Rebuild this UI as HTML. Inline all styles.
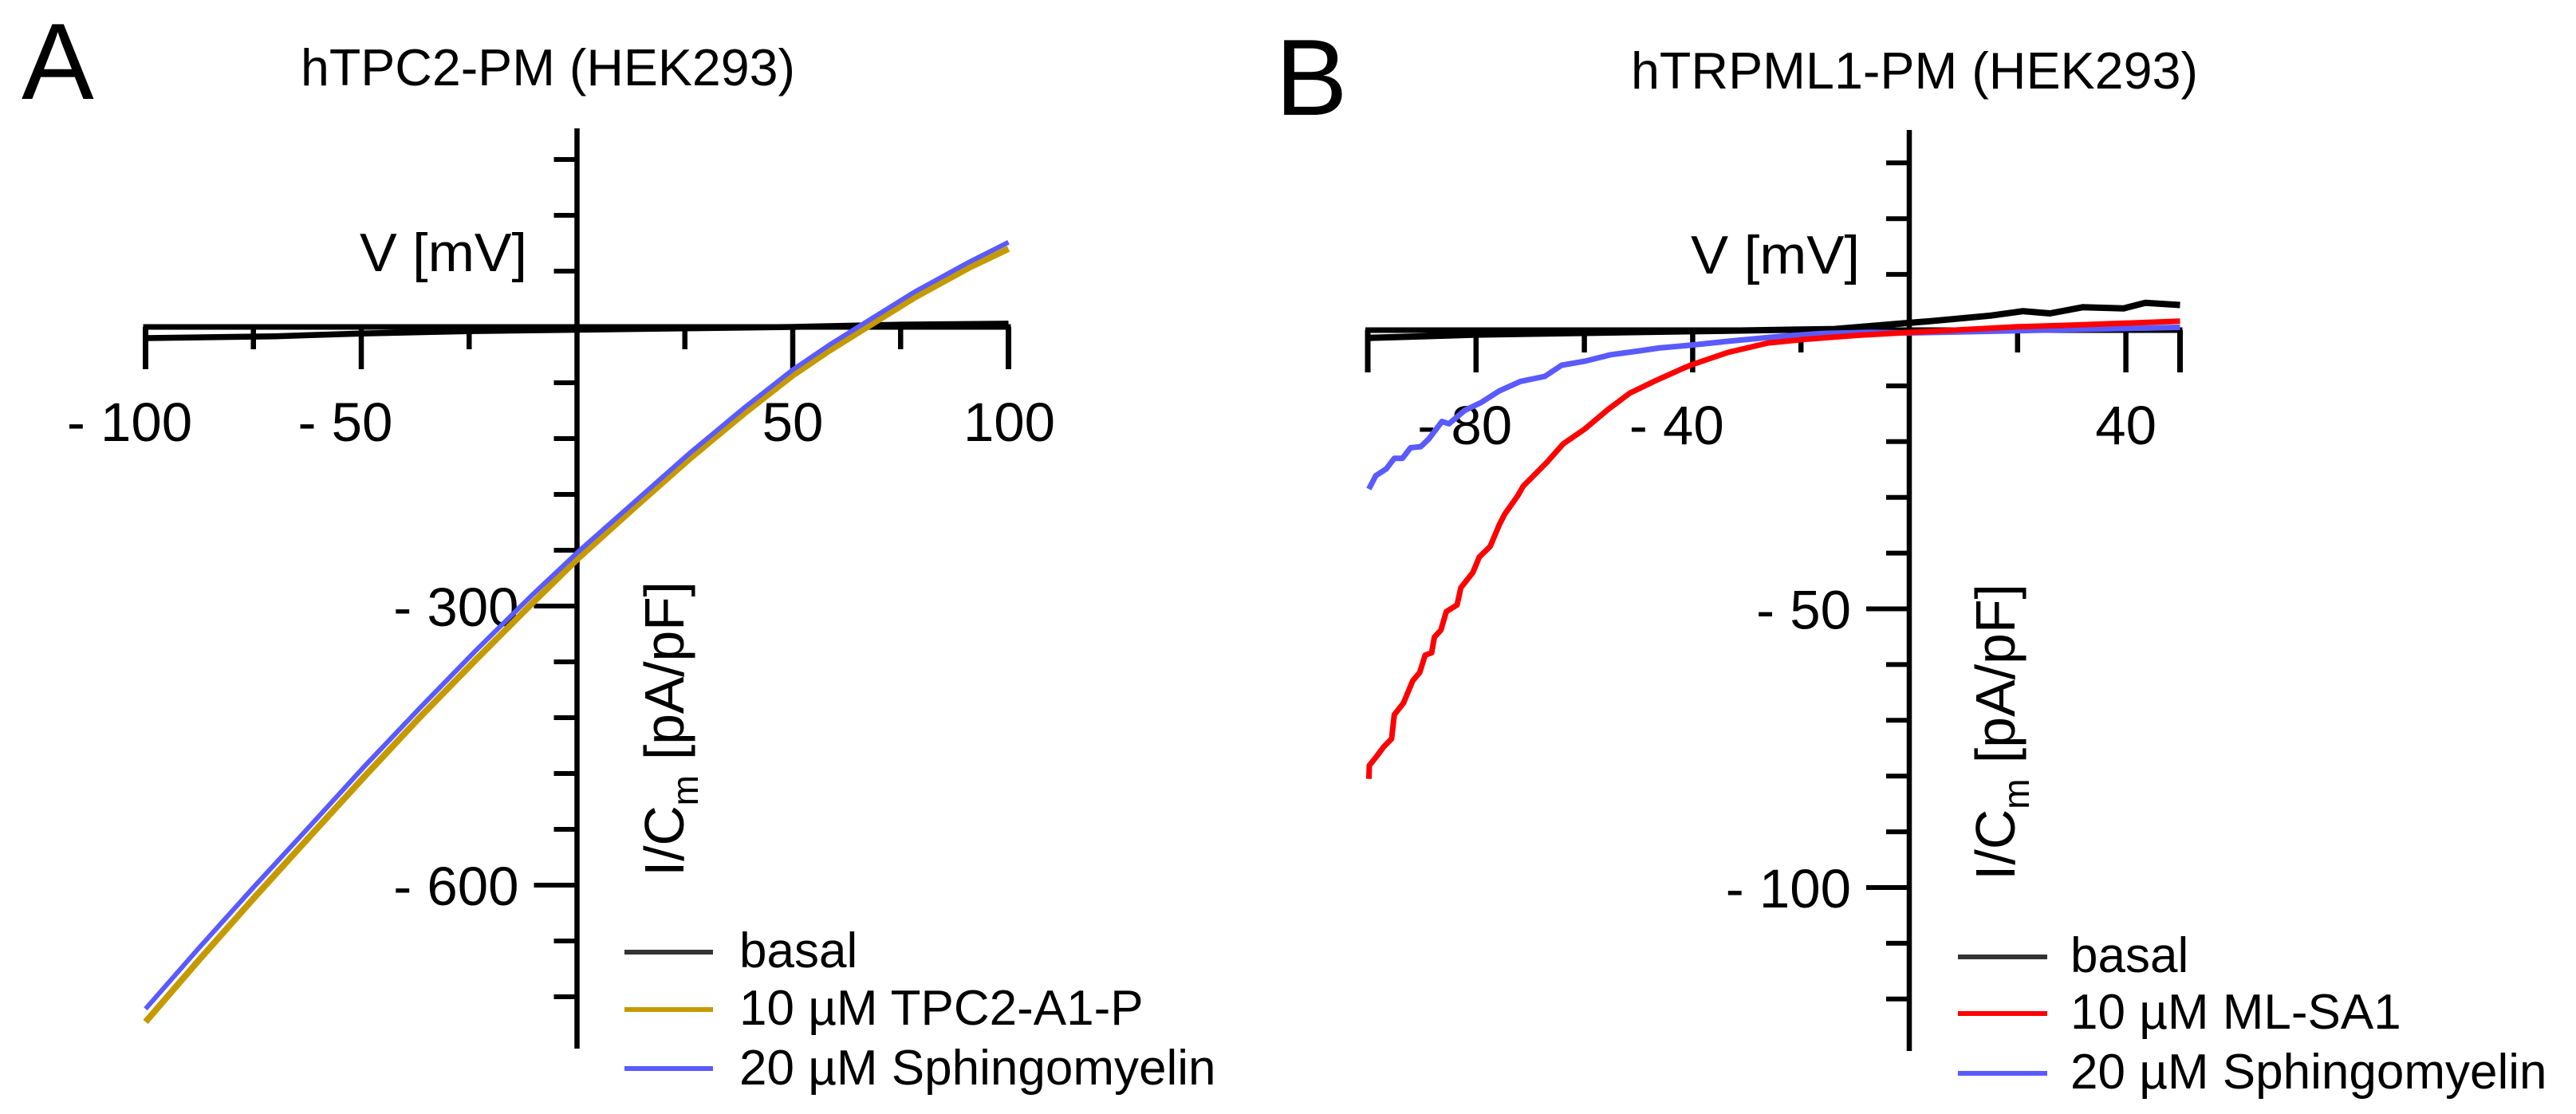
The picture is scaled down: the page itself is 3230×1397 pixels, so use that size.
<!DOCTYPE html>
<html lang="en">
<head>
<meta charset="utf-8">
<title>hTPC2-PM and hTRPML1-PM current-voltage curves</title>
<style>
html,body{margin:0;padding:0;background:#fff;}
svg{display:block;}
text{font-family:"Liberation Sans",Arial,sans-serif;fill:#000;}
</style>
</head>
<body>
<svg id="figure" xmlns="http://www.w3.org/2000/svg" width="3230" height="1397" viewBox="0 0 3230 1397"></svg>
<script>
// Panel A data
const aMajorXTicks = [-100, -50, 50, 100];
const aMinorXTicks = [-75, -25, 25, 75];
const aXTickLabels = ['- 100', '- 50', '50', '100'];
const aYTicks = [180, 120, 60, -60, -120, -180, -240, -360, -420, -480, -540, -660, -720];
const aMajorYTicks = [-300, -600];
const aYTickLabels = ['- 300', '- 600'];
const aVoltage = [-100, -87.7, -74.9, -62, -49.2, -36.3, -23.5, -10.6, 0.2, 13.1, 26, 39, 50, 58.6, 66.9, 78, 91, 100];
const aTpcCurrent = [-747, -681, -614, -548, -483, -419, -358, -298, -249, -195, -142, -92, -52, -25, -1, 31, 64, 84];
const aSphingoVoltage = [-100, -87.7, -74.9, -62, -49.2, -36.3, -23.5, -10.6, 0.2, 13.1, 26, 39, 50, 58.6, 66.9, 78, 91, 100];
const aSphingoCurrent = [-733, -668, -602, -537, -472, -409, -348, -289, -242, -189, -136, -86, -46, -19, 5, 37, 70, 91];
const aBasalVoltage = [-100, -70, -50, -25, 0, 25, 50, 75, 100];
const aBasalCurrent = [-12, -10, -7, -4.5, -3, -1.5, 0, 2.5, 3.5];

// Panel B data
const bMajorXTicks = [-80, -40, 40];
const bMinorXTicks = [-60, -20, 20];
const bXTickLabels = ['- 80', '- 40', '40'];
const bYTicks = [30, 20, 10, -10, -20, -30, -40, -60, -70, -80, -90, -110, -120];
const bMajorYTicks = [-50, -100];
const bYTickLabels = ['- 50', '- 100'];
const bBasalVoltage = [-100, -90, -80, -60, -40, -20, -13.8, 0, 3.8, 7.2, 15, 21, 26, 32, 39.6, 43.6, 50];
const bBasalCurrent = [-1.4, -1.1, -0.8, -0.5, -0.2, 0.1, 0.2, 1.3, 1.6, 1.9, 2.6, 3.4, 3.0, 4.1, 3.9, 4.9, 4.5];
const bMlVoltage = [-99.8, -99.7, -98.3, -97.1, -95.6, -95.1, -93.4, -91.7, -90.4, -89.4, -88.2, -87.7, -86.5, -85.5, -83.5, -82.8, -80.6, -79.4, -77.4, -75.7, -74.7, -72.3, -71.3, -66.9, -63.9, -60, -55.6, -51.6, -46.7, -42.1, -40.4, -33.5, -26.1, -18.7, -9, 0.4, 20, 30, 50];
const bMlCurrent = [-80.5, -78.1, -76.4, -74.8, -73.3, -69, -66.9, -62.9, -61.4, -58.3, -57.9, -55.1, -53.8, -50.5, -49.3, -46.2, -43.5, -40.7, -38.8, -34.9, -33, -29.7, -28, -23.7, -20.4, -17.8, -14.2, -11.3, -9, -7, -6.3, -4, -2.3, -1.6, -0.9, -0.4, 0.6, 0.9, 1.6];
const bSphingoVoltage = [-99.8, -98.5, -96.6, -95.1, -93.6, -92.1, -90.2, -88.7, -86.3, -85, -82.1, -79.1, -75.7, -71.8, -67.3, -64.2, -60, -55.1, -49.7, -46.2, -40.4, -33.5, -23.7, -16.3, -7, 0, 20, 50];
const bSphingoCurrent = [-28.5, -26.1, -24.9, -23, -23, -21.1, -20.9, -19.5, -16.4, -16.8, -14.4, -13, -10.9, -9.2, -8.3, -6.3, -5.6, -4.4, -3.7, -3.2, -2.7, -2, -1.1, -0.6, -0.4, -0.5, -0.1, 0.5];

const NS = 'http://www.w3.org/2000/svg';
const fig = document.getElementById('figure');

function mk(tag, attrs, parent, txt) {
  const el = document.createElementNS(NS, tag);
  for (const k in attrs) el.setAttribute(k, attrs[k]);
  if (txt !== undefined) el.textContent = txt;
  (parent || fig).appendChild(el);
  return el;
}

function scaleX(p) { return v => p.x0 + v * p.kx; }
function scaleY(p) { return v => p.y0 - v * p.ky; }

function drawAxes(p, g) {
  const xs = scaleX(p), ys = scaleY(p);
  const xAxis = mk('line', {x1: xs(p.xMin) - 3, x2: xs(p.xMax) + 3, y1: p.y0, y2: p.y0, stroke: '#000', 'stroke-width': 7}, g);
  
  
  const yAxis = mk('line', {x1: p.x0, x2: p.x0, y1: p.yTop, y2: p.yBottom, stroke: '#000', 'stroke-width': 6.5}, g);
  
  
  [xs(p.xMin), xs(p.xMax)].forEach(x => {
    const end = mk('line', {x1: x, x2: x, y1: p.y0, y2: p.y0 + 53, stroke: '#000', 'stroke-width': 7}, g);
    
    
  });
  p.majorX.forEach((v, i) => {
    const x = xs(v);
    const t = mk('line', {x1: x, x2: x, y1: p.y0, y2: p.y0 + 53, stroke: '#000', 'stroke-width': 6.5}, g);
    
    
    const lab = p.xLabels[i];
    const neg = v < 0;
    const digits = lab.replace(/[^0-9]/g, '').length;
    const lx = (neg ? x + digits * 19.2 + 1 : x) + (p.xLabelNudge[i] || 0);
    const label = mk('text', {x: lx, y: p.y0 + 143, 'font-size': 69, 'text-anchor': neg ? 'end' : 'middle', 'xml:space': 'preserve'}, g, lab);
    
    
  });
  p.minorX.forEach(v => {
    const x = xs(v);
    const t = mk('line', {x1: x, x2: x, y1: p.y0, y2: p.y0 + 28, stroke: '#000', 'stroke-width': 6.5}, g);
    
    
  });
  p.yMinor.forEach(v => {
    const y = ys(v);
    const t = mk('line', {x1: p.x0 - 29, x2: p.x0, y1: y, y2: y, stroke: '#000', 'stroke-width': 6}, g);
    
    
  });
  p.yMajor.forEach((v, i) => {
    const y = ys(v);
    const t = mk('line', {x1: p.x0 - 54, x2: p.x0, y1: y, y2: y, stroke: '#000', 'stroke-width': 6}, g);
    
    
    const label = mk('text', {x: p.x0 - 73, y: y + 25, 'font-size': 69, 'text-anchor': 'end'}, g, p.yLabels[i]);
    
    
  });
}

function drawSeries(p, g, vs, is, color, width, name) {
  const xs = scaleX(p), ys = scaleY(p);
  const pts = vs.map((v, i) => xs(v).toFixed(1) + ',' + ys(is[i]).toFixed(1)).join(' ');
  const line = mk('polyline', {points: pts, fill: 'none', stroke: color, 'stroke-width': width, 'stroke-linejoin': 'round'}, g);
  
  
}

function drawLegend(g, lx1, lx2, tx, items) {
  items.forEach(it => {
    const sw = mk('line', {x1: lx1, x2: lx2, y1: it.ly, y2: it.ly, stroke: it.color, 'stroke-width': 6}, g);
    
    
    const t = mk('text', {x: tx, y: it.ty, 'font-size': 62}, g, it.label);
    
    
  });
}

function drawYTitle(g, x, yStart, len) {
  const t = mk('text', {transform: 'translate(' + x + ',' + yStart + ') rotate(-90)', 'font-size': 70, textLength: len, lengthAdjust: 'spacing'}, g);
  
  
  mk('tspan', {}, t, 'I/C');
  mk('tspan', {dy: 18, 'font-size': 46}, t, 'm');
  mk('tspan', {dy: -18}, t, ' [pA/pF]');
}

function staticText(g, str, x, y, size, len, name) {
  const attrs = {x: x, y: y, 'font-size': size};
  if (len) { attrs.textLength = len; attrs.lengthAdjust = 'spacingAndGlyphs'; }
  const t = mk('text', attrs, g, str);
  
  
}

// Panel A
const gA = mk('g', {});


const pA = {x0: 723.5, kx: 5.41, y0: 410, ky: 350 / 300, xMin: -100, xMax: 100, yTop: 161, yBottom: 1315,
  majorX: aMajorXTicks, minorX: aMinorXTicks, xLabels: aXTickLabels, xLabelNudge: [0, 0, 0, 1],
  yMinor: aYTicks, yMajor: aMajorYTicks, yLabels: aYTickLabels};
staticText(gA, 'A', 27, 124, 136, 0, 'panel-letter-a');
staticText(gA, 'hTPC2-PM (HEK293)', 377, 107, 65, 620, 'panel-a-title');
staticText(gA, 'V [mV]', 451, 340, 68, 210, 'x-axis-title');
drawYTitle(gA, 857, 1099, 370);
drawAxes(pA, gA);
drawSeries(pA, gA, aBasalVoltage, aBasalCurrent, '#000', 7.5, 'series-basal');
drawSeries(pA, gA, aVoltage, aTpcCurrent, '#c49a00', 8, 'series-tpc2-a1-p');
drawSeries(pA, gA, aSphingoVoltage, aSphingoCurrent, '#5a5aff', 6, 'series-sphingomyelin');
drawLegend(gA, 783, 894, 927, [
  {ly: 1194, ty: 1213, color: '#333', label: 'basal'},
  {ly: 1266, ty: 1285, color: '#c49a00', label: '10 µM TPC2-A1-P'},
  {ly: 1340, ty: 1360, color: '#5a5aff', label: '20 µM Sphingomyelin'}
]);

// Panel B
const gB = mk('g', {});


const pB = {x0: 2394, kx: 6.79, y0: 414, ky: 6.99, xMin: -100, xMax: 50, yTop: 163, yBottom: 1318,
  majorX: bMajorXTicks, minorX: bMinorXTicks, xLabels: bXTickLabels, xLabelNudge: [6, 0, 0],
  yMinor: bYTicks, yMajor: bMajorYTicks, yLabels: bYTickLabels};
staticText(gB, 'B', 1599, 144, 136, 0, 'panel-letter-b');
staticText(gB, 'hTRPML1-PM (HEK293)', 2045, 111, 65, 711, 'panel-b-title');
staticText(gB, 'V [mV]', 2120, 343, 68, 212, 'x-axis-title');
drawYTitle(gB, 2526, 1104, 372);
drawAxes(pB, gB);
drawSeries(pB, gB, bBasalVoltage, bBasalCurrent, '#000', 8, 'series-basal');
drawSeries(pB, gB, bSphingoVoltage, bSphingoCurrent, '#5a5aff', 7, 'series-sphingomyelin');
drawSeries(pB, gB, bMlVoltage, bMlCurrent, '#ff0000', 7, 'series-ml-sa1');
drawLegend(gB, 2455, 2567, 2596, [
  {ly: 1200, ty: 1219, color: '#333', label: 'basal'},
  {ly: 1271, ty: 1290, color: '#ff0000', label: '10 µM ML-SA1'},
  {ly: 1346, ty: 1365, color: '#5a5aff', label: '20 µM Sphingomyelin'}
]);
</script>
</body>
</html>
